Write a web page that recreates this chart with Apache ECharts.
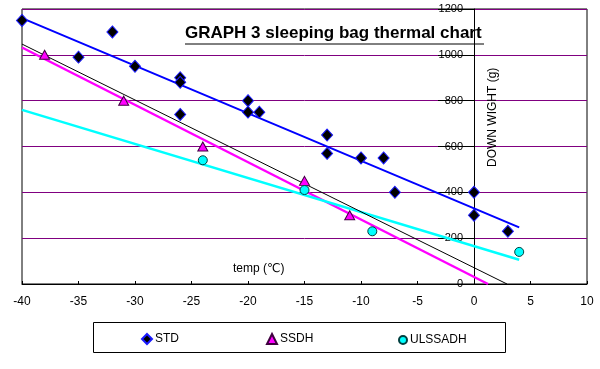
<!DOCTYPE html>
<html>
<head>
<meta charset="utf-8">
<script src="https://cdn.jsdelivr.net/npm/echarts@6/dist/echarts.min.js"></script>
<style>html,body{margin:0;padding:0;background:#fff;}#c{width:600px;height:369px;}</style>
</head>
<body>
<div id="c"></div>
<script>
// ---- data ----
const titleText = 'GRAPH 3 sleeping bag thermal chart';
const xTitle = 'temp (℃)';
const yTitle = 'DOWN WIGHT (g)';
const seriesNames = ['STD', 'SSDH', 'ULSSADH'];

const stdPoints = [
  [-40, 1150], [-32, 1100], [-35, 990], [-30, 950],
  [-26, 900], [-26, 880], [-26, 740],
  [-20, 800], [-20, 750], [-19, 750],
  [-13, 650], [-13, 570], [-10, 550], [-8, 550],
  [-7, 400], [0, 400], [0, 300], [3, 230]
];
const ssdhPoints = [
  [-38, 1000], [-31, 800], [-24, 600], [-15, 450], [-11, 300]
];
const ulssadhPoints = [
  [-24, 540], [-15, 410], [-9, 230], [4, 140]
];

// trend lines (end points)
const stdTrend = [[-40, 1160], [4, 247]];
const ssdhTrend = [[-40, 1032], [1.24, 0]];
const blackTrend = [[-40, 1047], [2.92, 0]];
const ulssadhTrend = [[-40, 760], [4, 106]];

const xMin = -40, xMax = 10, xStep = 5;
const yMin = 0, yMax = 1200, yStep = 200;
// ---------------------------------------

const chart = echarts.init(document.getElementById('c'), null, {renderer: 'canvas'});
const font = 'Liberation Sans, DejaVu Sans, sans-serif';

const gridLeft = 22, gridRight = 13;
const plotW = 600 - gridLeft - gridRight;
const yAxisShift = -plotW * (0 - xMin) / (xMax - xMin);

const option = {
  backgroundColor: '#ffffff',
  animation: false,
  title: {
    text: titleText,
    left: 185, top: 25,
    padding: 0,
    textStyle: {fontFamily: font, fontSize: 17, fontWeight: 'bold', color: '#000'}
  },
  grid: {
    left: gridLeft, right: gridRight, top: 9, bottom: 85,
    outerBoundsMode: 'none', containLabel: false,
    show: true, borderColor: '#000', borderWidth: 1, backgroundColor: '#fff'
  },
  legend: [
    {data: [{name: seriesNames[0], icon: 'diamond'}], left: 141, top: 333, itemWidth: 10, itemHeight: 10},
    {data: [{name: seriesNames[1], icon: 'triangle'}], left: 266, top: 333, itemWidth: 10, itemHeight: 10},
    {data: [{name: seriesNames[2], icon: 'circle'}], left: 398, top: 334, itemWidth: 8, itemHeight: 8}
  ].map(l => Object.assign(l, {
    itemGap: 2, padding: 0,
    selectedMode: false,
    textStyle: {fontFamily: font, fontSize: 12, color: '#000', padding: [0, 0, 0, -2]}
  })),
  xAxis: {
    type: 'value', min: xMin, max: xMax, interval: xStep,
    axisLine: {onZero: false, lineStyle: {color: '#000', width: 1}},
    axisTick: {show: true, inside: true, length: 3, lineStyle: {color: '#000'}},
    axisLabel: {color: '#000', fontFamily: font, fontSize: 12, margin: 12},
    splitLine: {show: false}
  },
  yAxis: {
    type: 'value', min: yMin, max: yMax, interval: yStep,
    position: 'left', offset: yAxisShift,
    axisLine: {show: true, onZero: false, lineStyle: {color: '#000', width: 1}},
    axisTick: {show: true, length: 36, lineStyle: {color: '#000'}},
    axisLabel: {color: '#000', fontFamily: font, fontSize: 11, margin: 11, formatter: v => String(v)},
    splitLine: {show: true, lineStyle: {color: '#800080', width: 1}}
  },
  graphic: [
    {type: 'line', shape: {x1: 185, y1: 44, x2: 484, y2: 44}, style: {stroke: '#000', lineWidth: 1}, z: 100},
    {type: 'text', left: 233, top: 263, style: {text: xTitle, font: '12px ' + font, fill: '#000'}, z: 100},
    {type: 'text', x: 487, y: 167, rotation: Math.PI / 2, style: {text: yTitle, font: '12px ' + font, fill: '#000'}, z: 100},
    {type: 'rect', shape: {x: 93.5, y: 322.5, width: 412, height: 30}, style: {fill: 'none', stroke: '#000', lineWidth: 1}, z: 0}
  ],
  series: [
    {name: 'stdTrend', type: 'line', data: stdTrend, showSymbol: false, symbol: 'none', lineStyle: {color: '#0000ff', width: 2}, z: 2},
    {name: 'ssdhTrend', type: 'line', data: ssdhTrend, showSymbol: false, symbol: 'none', lineStyle: {color: '#ff00ff', width: 2.5}, z: 2},
    {name: 'blackTrend', type: 'line', data: blackTrend, showSymbol: false, symbol: 'none', lineStyle: {color: '#000', width: 1}, z: 3},
    {name: 'ulssadhTrend', type: 'line', data: ulssadhTrend, showSymbol: false, symbol: 'none', lineStyle: {color: '#00ffff', width: 2.5}, z: 2},
    {name: seriesNames[0], type: 'scatter', data: stdPoints, symbol: 'diamond', symbolSize: [11, 12],
     itemStyle: {color: '#000', borderColor: '#1a1aff', borderWidth: 1, opacity: 1}, z: 5},
    {name: seriesNames[1], type: 'scatter', data: ssdhPoints, symbol: 'triangle', symbolSize: [10, 9],
     itemStyle: {color: '#ff00ff', borderColor: '#400040', borderWidth: 1, opacity: 1}, z: 5},
    {name: seriesNames[2], type: 'scatter', data: ulssadhPoints, symbol: 'circle', symbolSize: 9,
     itemStyle: {color: '#00ffff', borderColor: '#004040', borderWidth: 1, opacity: 1}, z: 5}
  ]
};
chart.setOption(option);
</script>
</body>
</html>
